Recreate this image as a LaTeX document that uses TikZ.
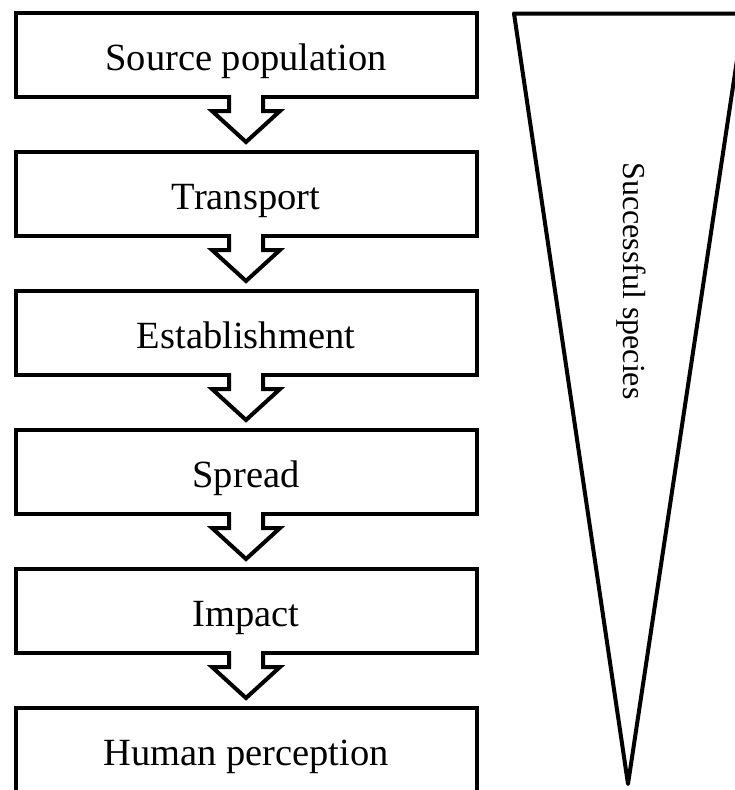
\documentclass[tikz,border=0pt]{standalone}
\usepackage{fontspec}
\setmainfont{Liberation Serif}
\usetikzlibrary{positioning,calc}
\tikzstyle{stage}=[%
      rectangle, draw=black, line width=4pt, fill=white,
      minimum width=461pt, minimum height=84pt, inner sep=0pt, outer sep=0pt,
      text height=30pt, text depth=0pt, font=\fontsize{38.5}{40}\selectfont
]
\tikzstyle{flow}=[%
      draw=black, line width=4pt, line join=miter
]
\tikzstyle{funnel}=[%
      draw=black, line width=4pt, line join=round
]

\begin{document}
\begin{tikzpicture}[x=1pt,y=-1pt]
    \useasboundingbox (0,0) rectangle (735,790);
    \clip (0,0) rectangle (735,790);
    \node[stage] (src) at (246,55) {Source population};
    \node[stage] (trans) [below = 55pt of src] {Transport};
    \node[stage] (estab) [below = 55pt of trans] {Establishment};
    \node[stage] (spread) [below = 55pt of estab] {Spread};
    \node[stage] (impact) [below = 55pt of spread] {Impact};
    \node[stage] (human) [below = 55pt of impact] {Human perception};
    % block arrows between the stages
    \foreach \a/\b in {src/trans, trans/estab, estab/spread, spread/impact, impact/human}{
      \fill[white] ($(\a.south)+(-17,-3)$) rectangle ($(\a.south)+(17,2.5)$);
      \draw[flow] ($(\a.south)+(-17,-2)$) -- ($(\a.south)+(-17,14)$) -- ($(\a.south)+(-34,14)$)
        -- ($(\b.north)+(0,-10)$) -- ($(\a.south)+(34,14)$) -- ($(\a.south)+(17,14)$) -- ($(\a.south)+(17,-2)$);
    }
    % narrowing triangle
    \draw[funnel] (514,13.5) -- (744,13.5) -- (628,784) -- cycle;
    \node[rotate=-90, font=\fontsize{32}{36}\selectfont] (succ) at (631,281) {Successful species};
\end{tikzpicture}
\end{document}
